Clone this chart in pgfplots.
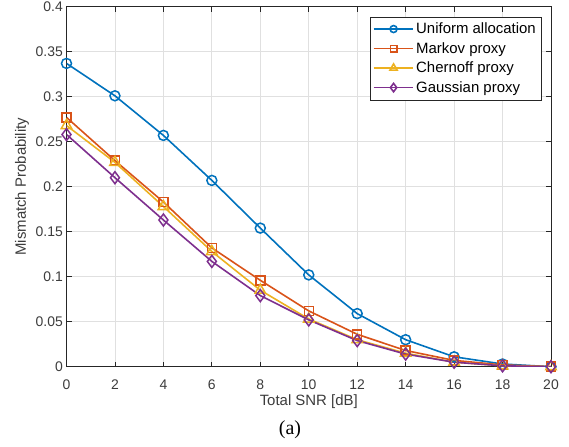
\documentclass[border=0pt]{standalone}
\usepackage{pgfplots}
\pgfplotsset{compat=1.18}
\usepackage{fontspec}
\setmainfont{Liberation Sans}
\newfontfamily\capfont{Liberation Serif}
\definecolor{mblue}{rgb}{0,0.447,0.741}
\definecolor{morange}{rgb}{0.85,0.325,0.098}
\definecolor{myellow}{rgb}{0.929,0.694,0.125}
\definecolor{mpurple}{rgb}{0.494,0.184,0.556}
\definecolor{axgray}{rgb}{0.15,0.15,0.15}
\begin{document}
\begin{tikzpicture}
\begin{axis}[
  name=ax,
  scale only axis,
  width=484.5bp, height=360bp,
  xmin=0, xmax=20, ymin=0, ymax=0.4,
  xtick={0,2,...,20},
  ytick={0,0.05,...,0.4},
  yticklabels={0,0.05,0.1,0.15,0.2,0.25,0.3,0.35,0.4},
  scaled y ticks=false,
  grid=major,
  major grid style={color=black!12, line width=0.8bp},
  axis line style={axgray, line width=0.8bp},
  tick style={axgray, line width=0.8bp},
  tick align=inside,
  major tick length=5bp,
  xtick pos=both, ytick pos=both,
  /pgf/number format/assume math mode=true,
  tick label style={font=\fontsize{14}{16}\selectfont, text=axgray!90, inner sep=0pt},
  xticklabel style={yshift=-13bp},
  yticklabel style={xshift=-3.5bp},
  xlabel={Total SNR [dB]},
  ylabel={Mismatch Probability},
  label style={font=\fontsize{15}{17}\selectfont, text=axgray!90, inner sep=0pt},
  xlabel style={at={(axis description cs:0.5,0)}, anchor=north, yshift=-28bp},
  ylabel style={at={(axis description cs:0,0.5)}, anchor=center, yshift=44.5bp},
  legend style={at={(axis description cs:1,1)}, anchor=north east, xshift=-10bp, yshift=-10bp,
    font=\fontsize{15}{17}\selectfont, draw=axgray, fill=white,
    row sep=3.2bp, inner xsep=3bp, inner ysep=4bp},
  legend cell align=left,
  legend image code/.code={
    \draw[line width=1.6bp, mark repeat=2, mark phase=2, mark options={scale=0.7}]
      plot coordinates {(0cm,0cm) (0.7cm,0cm) (1.4cm,0cm)};},
  every axis plot/.append style={line width=1.6bp},
]
\addplot[mblue, mark=o, mark size=5bp, mark options={line width=1.5bp}] coordinates {
(0,0.337) (2,0.301) (4,0.257) (6,0.207) (8,0.154) (10,0.102) (12,0.059) (14,0.030) (16,0.011) (18,0.003) (20,0.000)};
\addlegendentry{Uniform allocation}
\addplot[morange, mark=square, mark size=4.5bp, mark options={line width=1.5bp}] coordinates {
(0,0.277) (2,0.229) (4,0.183) (6,0.132) (8,0.096) (10,0.062) (12,0.036) (14,0.018) (16,0.007) (18,0.002) (20,0.000)};
\addlegendentry{Markov proxy}
\addplot[myellow, mark=triangle, mark size=6bp, mark options={line width=1.5bp}] coordinates {
(0,0.268) (2,0.227) (4,0.178) (6,0.128) (8,0.085) (10,0.053) (12,0.030) (14,0.015) (16,0.005) (18,0.001) (20,0.000)};
\addlegendentry{Chernoff proxy}
\addplot[mpurple, mark=diamond, mark size=6bp, mark options={line width=1.5bp}] coordinates {
(0,0.258) (2,0.210) (4,0.163) (6,0.117) (8,0.079) (10,0.052) (12,0.029) (14,0.014) (16,0.005) (18,0.001) (20,0.000)};
\addlegendentry{Gaussian proxy}
\end{axis}
\node[font=\capfont\fontsize{20}{22}\selectfont, inner sep=0pt] at ([xshift=223.5bp,yshift=-63.5bp]ax.south west) {(a)};
\pgfresetboundingbox
\path ([xshift=-66.5bp,yshift=-80.3bp]ax.south west) rectangle ([xshift=18bp,yshift=6.7bp]ax.north east);
\end{tikzpicture}
\end{document}
